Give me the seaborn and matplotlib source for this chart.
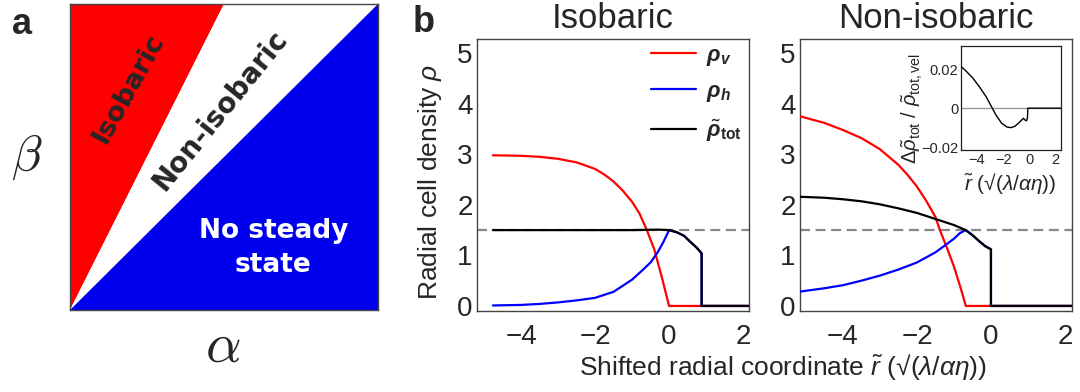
import matplotlib
matplotlib.use("Agg")
import matplotlib.pyplot as plt
import seaborn as sns
import pandas as pd
from matplotlib.font_manager import FontProperties
from matplotlib.mathtext import MathTextParser

# ---------------- data ----------------
# panel a: phase diagram regions (alpha, beta in unit square)
iso_alpha = [0, 0, 0.5]
iso_beta = [0, 1, 1]
non_alpha = [0, 0.5, 1]
non_beta = [0, 1, 1]
nss_alpha = [0, 1, 1]
nss_beta = [0, 1, 0]

# panel b left: isobaric
iso_rv_x = [-4.76, -4.0, -3.5, -3.0, -2.5, -2.0, -1.75, -1.5, -1.25, -1.0, -0.8, -0.6,
            -0.4, -0.2, 0.0, 2.2]
iso_rv_y = [2.98, 2.97, 2.95, 2.91, 2.84, 2.71, 2.60, 2.46, 2.28, 2.06, 1.83, 1.50,
            1.12, 0.58, 0.0, 0.0]
iso_rh_x = [-4.76, -4.0, -3.5, -3.0, -2.5, -2.0, -1.5, -1.0, -0.7, -0.5, -0.3, -0.15, 0.0,
            0.2, 0.4, 0.6, 0.75, 0.88, 0.88, 2.2]
iso_rh_y = [0.01, 0.02, 0.04, 0.07, 0.11, 0.16, 0.28, 0.52, 0.72, 0.86, 1.07, 1.27, 1.50,
            1.46, 1.39, 1.25, 1.15, 1.04, 0.0, 0.0]
iso_rt_x = [-4.76, -3.0, -1.0, -0.3, 0.0, 0.2, 0.4, 0.6, 0.75, 0.88, 0.88, 2.2]
iso_rt_y = [1.50, 1.50, 1.50, 1.51, 1.50, 1.46, 1.39, 1.25, 1.15, 1.04, 0.0, 0.0]

# panel b right: non-isobaric
non_rv_x = [-5.2, -4.5, -4.0, -3.5, -3.0, -2.5, -2.25, -2.0, -1.75, -1.5, -1.38, -1.2,
            -1.0, -0.8, -0.68, 2.2]
non_rv_y = [3.76, 3.62, 3.48, 3.32, 3.10, 2.79, 2.59, 2.36, 2.08, 1.76, 1.50, 1.17,
            0.78, 0.31, 0.0, 0.0]
non_rh_x = [-5.2, -4.5, -4.0, -3.5, -3.0, -2.5, -2.0, -1.5, -1.2, -1.0, -0.84, -0.68,
            -0.5, -0.3, -0.15, 0.0, 0.0, 2.2]
non_rh_y = [0.28, 0.35, 0.41, 0.50, 0.60, 0.72, 0.86, 1.06, 1.22, 1.33, 1.44, 1.50,
            1.40, 1.27, 1.18, 1.12, 0.0, 0.0]
non_rt_x = [-5.2, -4.5, -4.0, -3.5, -3.0, -2.5, -2.0, -1.5, -1.0, -0.68, -0.5, -0.3,
            -0.15, 0.0, 0.0, 2.2]
non_rt_y = [2.16, 2.14, 2.11, 2.07, 2.01, 1.93, 1.84, 1.72, 1.60, 1.50, 1.40, 1.27,
            1.18, 1.12, 0.0, 0.0]
rho_ref = 1.5

# inset: relative difference
ins_x = [-5.2, -4.8, -4.3, -3.8, -3.3, -2.9, -2.5, -2.1, -1.7, -1.4, -1.1, -0.8,
         -0.55, -0.45, -0.35, -0.22, -0.15, -0.12, 2.4]
ins_y = [0.0215, 0.0190, 0.0155, 0.0110, 0.0060, 0.0010, -0.0040, -0.0078, -0.0097,
         -0.0100, -0.0093, -0.0075, -0.0058, -0.0052, -0.0060, -0.0065, -0.0050, 0.0, 0.0]

main_xticks = [-4, -2, 0, 2]
main_yticks = [0, 1, 2, 3, 4, 5]
ins_xticks = [-4, -2, 0, 2]
ins_yticks = [-0.02, 0, 0.02]
ins_yticklabels = ["\u22120.02", "0", "0.02"]

# ---------------- style ----------------
sns.set_style("white")
plt.rcParams["font.family"] = ["Liberation Sans", "DejaVu Sans"]
plt.rcParams["mathtext.fontset"] = "custom"
plt.rcParams["mathtext.rm"] = "Liberation Sans"
plt.rcParams["mathtext.it"] = "Liberation Sans:italic"
plt.rcParams["mathtext.bf"] = "Liberation Sans:bold"
try:
    plt.rcParams["mathtext.bfit"] = "Liberation Sans:italic:bold"
except Exception:
    pass


def math_ok(s):
    try:
        MathTextParser("agg").parse(s, dpi=100, prop=FontProperties())
        return True
    except Exception:
        return False


if math_ok(r"$\mathbfit{\rho}$"):
    lab_v = r"$\mathbfit{\rho}_{\mathbfit{v}}$"
    lab_h = r"$\mathbfit{\rho}_{\mathbfit{h}}$"
    lab_t = r"$\tilde{\mathbfit{\rho}}_{\mathbf{tot}}$"
else:
    lab_v = r"$\mathbf{\rho}_{\mathbf{v}}$"
    lab_h = r"$\mathbf{\rho}_{\mathbf{h}}$"
    lab_t = r"$\tilde{\mathbf{\rho}}_{\mathbf{tot}}$"

RED = "#ff0000"
BLUE = "#0000ff"
BLACK = "#000000"
SPINE = "#444444"

W, H = 1080, 392
fig = plt.figure(figsize=(W / 100, H / 100), dpi=100)


def box(x0, y0, x1, y1):
    return [x0 / W, 1 - y1 / H, (x1 - x0) / W, (y1 - y0) / H]


# ---------------- panel a ----------------
ax_a = fig.add_axes(box(70, 4, 378, 310))
ax_a.fill(iso_alpha, iso_beta, color=RED, lw=0)
ax_a.fill(non_alpha, non_beta, color="white", lw=0)
ax_a.fill(nss_alpha, nss_beta, color="#0000ee", lw=0)
ax_a.set_xlim(0, 1)
ax_a.set_ylim(0, 1)
ax_a.set_xticks([])
ax_a.set_yticks([])
for s in ax_a.spines.values():
    s.set_color(SPINE)
    s.set_linewidth(1.0)
    s.set_visible(True)
ax_a.text(0.19, 0.725, "Isobaric", rotation=61, fontsize=19.5, fontweight="bold",
          ha="center", va="center", family="DejaVu Sans", transform=ax_a.transAxes)
ax_a.text(0.487, 0.652, "Non-isobaric", rotation=51, fontsize=20, fontweight="bold",
          ha="center", va="center", family="DejaVu Sans", transform=ax_a.transAxes)
ax_a.text(0.66, 0.203, "No steady\nstate", fontsize=19, fontweight="bold", color="white",
          ha="center", va="center", family="DejaVu Sans", linespacing=1.4,
          transform=ax_a.transAxes)
fig.text(27 / W, 1 - 157 / H, r"$\beta$", fontsize=36, math_fontfamily="cm",
         ha="center", va="center")
fig.text(223 / W, 1 - 348 / H, r"$\alpha$", fontsize=40, math_fontfamily="cm",
         ha="center", va="center")
fig.text(22 / W, 1 - 24 / H, "a", fontsize=26, fontweight="bold", ha="center", va="center")
fig.text(424 / W, 1 - 22 / H, "b", fontsize=26, fontweight="bold", ha="center", va="center")


# ---------------- panel b ----------------
def style_main(ax):
    ax.set_xlim(-5.19, 2.16)
    ax.set_ylim(-0.1, 5.28)
    ax.set_xticks(main_xticks)
    ax.set_yticks(main_yticks)
    ax.tick_params(axis="both", direction="in", length=4, width=0.8, color=SPINE,
                   labelsize=20)
    ax.tick_params(axis="x", pad=9)
    ax.tick_params(axis="y", pad=3)
    for s in ax.spines.values():
        s.set_color(SPINE)
        s.set_linewidth(1.0)
        s.set_visible(True)
    ax.set_xlabel("")
    ax.set_ylabel("")
    ax.axhline(rho_ref, color="#888888", lw=1.6, ls=(0, (4.5, 2.5)), zorder=1)


def draw(ax, x, y, color, lw=1.6, label=None):
    df = pd.DataFrame({"x": x, "y": y})
    sns.lineplot(data=df, x="x", y="y", ax=ax, color=color, lw=lw, estimator=None,
                 sort=False, label=label, legend=False, zorder=3)


ax_l = fig.add_axes(box(477, 39, 749, 311))
draw(ax_l, iso_rv_x, iso_rv_y, RED, label=lab_v)
draw(ax_l, iso_rh_x, iso_rh_y, BLUE, label=lab_h)
draw(ax_l, iso_rt_x, iso_rt_y, BLACK, label=lab_t)
style_main(ax_l)
ax_l.set_title("Isobaric", fontsize=25, pad=8)
leg = ax_l.legend(loc="upper right", bbox_to_anchor=(0.99, 0.995), frameon=False,
                  fontsize=16, handlelength=2.0, labelspacing=0.6, handletextpad=0.45,
                  borderaxespad=0.0, borderpad=0.2)

ax_r = fig.add_axes(box(800, 39, 1072, 311))
draw(ax_r, non_rv_x, non_rv_y, RED)
draw(ax_r, non_rh_x, non_rh_y, BLUE)
draw(ax_r, non_rt_x, non_rt_y, BLACK)
style_main(ax_r)
ax_r.set_xlim(-5.16, 2.19)
ax_r.set_title("Non-isobaric", fontsize=25, pad=8)

fig.text(430 / W, 1 - 182 / H, r"Radial cell density $\rho$", rotation=90, fontsize=19,
         ha="center", va="center")
fig.text(783 / W, 1 - 367 / H, r"Shifted radial coordinate $\tilde{r}$ (√($\lambda/\alpha\eta$))",
         fontsize=19, ha="center", va="center")

# ---------------- inset ----------------
ax_i = fig.add_axes(box(961, 46, 1061, 150))
ax_i.axhline(0, color="#999999", lw=1.0, zorder=1)
draw(ax_i, ins_x, ins_y, BLACK, lw=1.0)
ax_i.set_xlim(-5.2, 2.4)
ax_i.set_ylim(-0.0215, 0.032)
ax_i.set_xticks(ins_xticks)
ax_i.set_yticks(ins_yticks)
ax_i.set_yticklabels(ins_yticklabels)
ax_i.tick_params(axis="both", direction="in", length=3, width=0.7, color="#222222",
                 labelsize=10.5, pad=2)
for s in ax_i.spines.values():
    s.set_color("#222222")
    s.set_linewidth(0.9)
    s.set_visible(True)
ax_i.set_xlabel("")
ax_i.set_ylabel("")
ax_i.set_facecolor("white")
fig.text(912 / W, 1 - 109 / H,
         r"$\Delta\tilde{\rho}_{\mathrm{tot}}$ / $\tilde{\rho}_{\mathrm{tot,vel}}$",
         rotation=90, fontsize=14.5, ha="center", va="center")
fig.text(1010 / W, 1 - 183 / H, r"$\tilde{r}$ (√($\lambda/\alpha\eta$))", fontsize=15,
         ha="center", va="center")

fig.savefig("out.png", dpi=100)
